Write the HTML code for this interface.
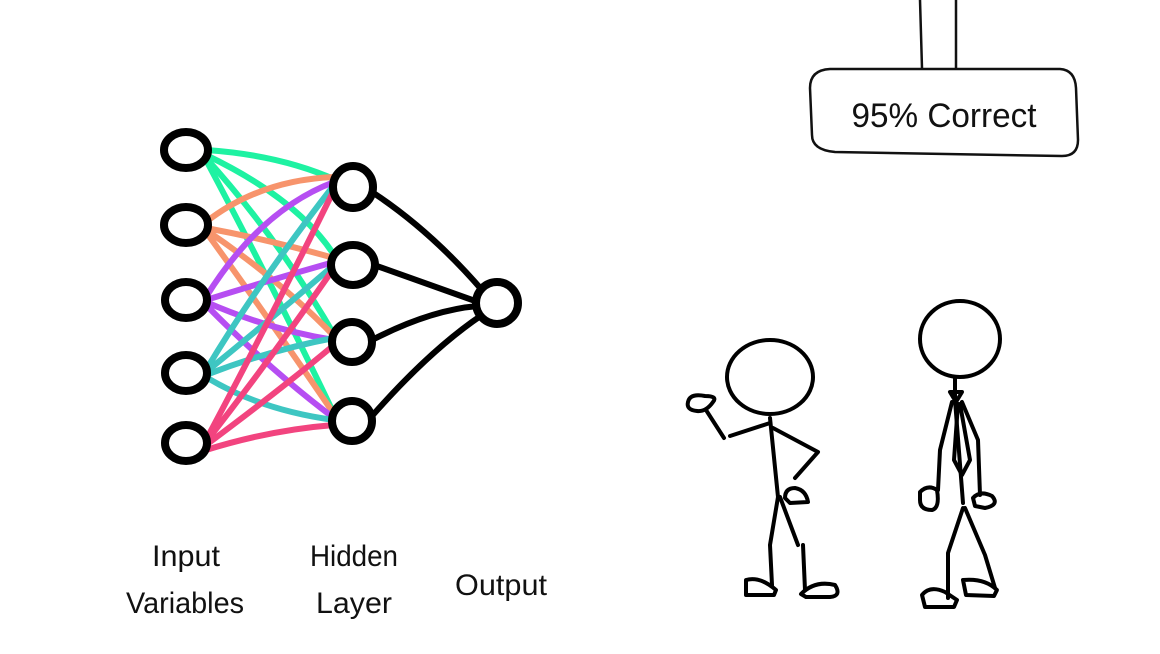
<!DOCTYPE html>
<html><head><meta charset="utf-8"><style>
html,body{margin:0;padding:0;background:#fff;width:1160px;height:654px;overflow:hidden}
svg{display:block}
text{font-family:"Comic Sans MS","Liberation Sans",sans-serif;fill:#111}
</style></head><body>
<svg width="1160" height="654" viewBox="0 0 1160 654" xmlns="http://www.w3.org/2000/svg">
<g fill="none" stroke-linecap="round" stroke-width="6">
<g stroke="#1ef2a2">
<path d="M206 150 Q280 155 336 180"/>
<path d="M206 155 Q300 200 336 258"/>
<path d="M206 158 Q280 240 336 338"/>
<path d="M206 160 Q270 280 336 418"/>
</g>
<g stroke="#f7946c">
<path d="M206 222 Q260 180 334 177"/>
<path d="M206 228 Q270 240 334 258"/>
<path d="M206 230 Q280 280 334 336"/>
<path d="M206 232 Q270 320 334 414"/>
</g>
<g stroke="#b64ef2">
<path d="M206 297 Q260 210 334 182"/>
<path d="M206 300 Q270 280 334 262"/>
<path d="M206 302 Q270 330 334 340"/>
<path d="M206 305 Q270 370 334 418"/>
</g>
<g stroke="#3ec6c2">
<path d="M206 370 Q260 280 334 185"/>
<path d="M206 372 Q270 320 334 265"/>
<path d="M206 375 Q270 350 334 338"/>
<path d="M206 377 Q260 410 334 420"/>
</g>
<g stroke="#f2447f">
<path d="M206 440 Q270 320 334 190"/>
<path d="M206 442 Q270 360 334 268"/>
<path d="M206 445 Q280 390 334 345"/>
<path d="M206 450 Q270 430 334 425"/>
</g>
<g stroke="#000" stroke-width="6">
<path d="M372 192 Q430 230 482 290"/>
<path d="M374 265 Q430 285 478 302"/>
<path d="M372 340 Q430 310 478 306"/>
<path d="M372 416 Q430 350 482 315"/>
</g>
<g stroke="#000" stroke-width="8" fill="#fff">
<ellipse cx="186" cy="150" rx="22" ry="18"/>
<ellipse cx="186" cy="225" rx="22" ry="18"/>
<ellipse cx="186" cy="300" rx="21" ry="18"/>
<ellipse cx="186" cy="373" rx="21" ry="18"/>
<ellipse cx="186" cy="443" rx="21" ry="18"/>
<ellipse cx="353" cy="187" rx="20" ry="21"/>
<ellipse cx="353" cy="265" rx="22" ry="20"/>
<ellipse cx="352" cy="342" rx="20" ry="20"/>
<ellipse cx="352" cy="421" rx="20" ry="20"/>
<ellipse cx="497" cy="303" rx="21" ry="21"/>
</g>
<g stroke="#111" stroke-width="2.5">
<path d="M920 0 L922 68"/><path d="M956 0 L956 68"/>
<path d="M830 69 L1060 69 Q1075 70 1076 88 L1078 140 Q1078 156 1062 156 L835 152 Q812 150 812 135 L810 88 Q810 70 830 69 Z"/>
</g>
<g stroke="#000" stroke-width="4" stroke-linejoin="round">
<ellipse cx="770" cy="377" rx="43" ry="37"/>
<path d="M770 418 L778 497"/>
<path d="M770 423 L730 436"/>
<path d="M724 438 L706 410"/>
<path d="M688 402 Q690 393 705 396 Q718 396 713 402 Q706 412 697 411 Q686 410 688 402 Z"/>
<path d="M773 428 L818 452 L795 478"/>
<path d="M785 498 Q785 488 795 488 Q806 490 808 502 L790 503 Z"/>
<path d="M778 497 L770 545 L772 585"/>
<path d="M780 497 L798 545"/><path d="M803 545 L805 590"/>
<path d="M746 580 Q760 576 776 590 L774 595 L746 595 Z"/>
<path d="M801 594 Q815 580 835 585 Q842 596 830 597 L806 597 Z"/>
</g>
<g stroke="#000" stroke-width="4" stroke-linejoin="round">
<ellipse cx="960" cy="339" rx="40" ry="38"/>
<path d="M955 377 L955 398"/>
<path d="M950 392 L962 392 L956 402 Z"/>
<path d="M955 400 L963 503"/>
<path d="M952 402 L940 450 L938 490"/>
<path d="M958 404 L954 460 L962 475 L970 460 L960 404"/>
<path d="M962 402 L978 440 L980 495"/>
<path d="M920 492 Q928 484 937 490 Q940 508 932 510 Q920 510 920 500 Z"/>
<path d="M973 498 Q980 490 992 496 Q1000 505 985 508 L975 506 Z"/>
<path d="M963 508 L948 553 L948 598"/>
<path d="M965 508 L985 555 L995 588"/>
<path d="M922 595 Q930 585 945 592 L957 600 L954 607 L925 607 Z"/>
<path d="M963 580 Q985 578 997 590 L994 596 L966 595 Z"/>
</g>
</g>
<text x="944" y="127" font-size="34" text-anchor="middle" textLength="185" lengthAdjust="spacingAndGlyphs">95% Correct</text>
<g font-size="30" text-anchor="middle">
<text x="186" y="566" textLength="68" lengthAdjust="spacingAndGlyphs">Input</text>
<text x="185" y="613" textLength="118" lengthAdjust="spacingAndGlyphs">Variables</text>
<text x="354" y="566" textLength="88" lengthAdjust="spacingAndGlyphs">Hidden</text>
<text x="354" y="613" textLength="76" lengthAdjust="spacingAndGlyphs">Layer</text>
<text x="501" y="595" textLength="92" lengthAdjust="spacingAndGlyphs">Output</text>
</g>
</svg>
</body></html>
